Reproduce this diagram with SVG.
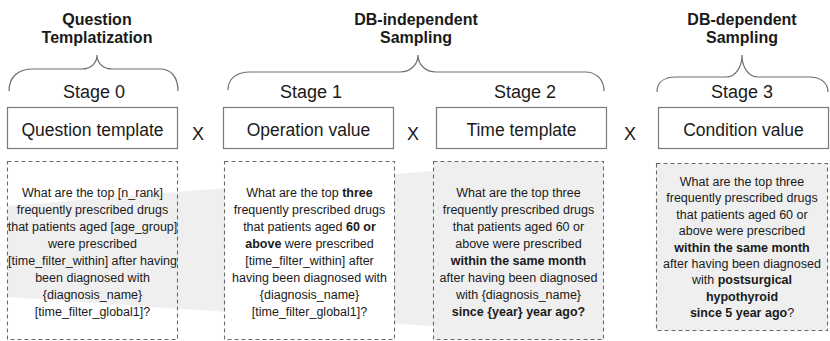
<svg xmlns="http://www.w3.org/2000/svg" width="830" height="341" viewBox="0 0 830 341">
<style>
text{font-family:"Liberation Sans",Arial,sans-serif;fill:#1a1a1a;text-anchor:middle}
.title{font-size:16px;font-weight:bold}
.stage{font-size:18px}
.lbl{font-size:17.5px}
.x{font-size:18px}
.q{font-size:12.5px}
.b{font-weight:bold}
.brace{fill:none;stroke:#6e6e6e;stroke-width:1.2}
.box{fill:#ffffff;stroke:#7a7a7a;stroke-width:1.2}
.dash{stroke:#6a6a6a;stroke-width:1.1;stroke-dasharray:4 3}
</style>
<polygon points="8,206 433,171 433,326 8,297" fill="#efefef"/>
<g id="titles">
<text class="title" x="97" y="25">Question</text>
<text class="title" x="97" y="43">Templatization</text>
<text class="title" x="416" y="25">DB-independent</text>
<text class="title" x="416" y="43">Sampling</text>
<text class="title" x="742" y="25">DB-dependent</text>
<text class="title" x="742" y="43">Sampling</text>
</g>
<g id="connectors">
<path class="brace" d="M9,91 C9,77 18,69 33,69 L82,69 C91,69 97,63 97,55 C97,63 103,69 112,69 L160,69 C171,69 178,77 178,91"/>
<path class="brace" d="M228,90 C228,79 236,72 250,72 L400,72 C410,72 418,65 418,55 C418,65 426,72 436,72 L585,72 C597,72 604,80 604,91"/>
<path class="brace" d="M657,92 C657,83 663,77 676,77 L726,77 C735,77 742,68 742,55 C742,68 749,77 758,77 L809,77 C821,77 828,83 828,92"/>
<text class="x" x="198" y="140">X</text>
<text class="x" x="413" y="140">X</text>
<text class="x" x="630" y="140">X</text>
</g>
<g id="stage0">
<text class="stage" x="94" y="98">Stage 0</text>
<rect class="box" x="7.5" y="107.5" width="170" height="41"/>
<text class="lbl" x="92.5" y="136">Question template</text>
</g>
<g id="stage1">
<text class="stage" x="311" y="98">Stage 1</text>
<rect class="box" x="223.5" y="107.5" width="170" height="41"/>
<text class="lbl" x="308.5" y="136">Operation value</text>
</g>
<g id="stage2">
<text class="stage" x="525" y="98">Stage 2</text>
<rect class="box" x="436.5" y="107.5" width="170" height="41"/>
<text class="lbl" x="521.5" y="136">Time template</text>
</g>
<g id="stage3">
<text class="stage" x="742" y="98">Stage 3</text>
<rect class="box" x="658.5" y="107.5" width="170" height="41"/>
<text class="lbl" x="743.5" y="136">Condition value</text>
</g>
<g id="example0">
<rect class="dash" x="7.5" y="161.5" width="170" height="178" fill="none"/>
<text class="q" x="92.5" y="197">What are the top [n_rank]</text>
<text class="q" x="92.5" y="214">frequently prescribed drugs</text>
<text class="q" x="92.5" y="231">that patients aged [age_group]</text>
<text class="q" x="92.5" y="248">were prescribed</text>
<text class="q" x="92.5" y="265">[time_filter_within] after having</text>
<text class="q" x="92.5" y="282">been diagnosed with</text>
<text class="q" x="92.5" y="299">{diagnosis_name}</text>
<text class="q" x="92.5" y="316">[time_filter_global1]?</text>
</g>
<g id="example1">
<rect class="dash" x="224.5" y="161.5" width="170" height="178" fill="#ffffff"/>
<text class="q" x="309.5" y="197">What are the top <tspan class="b">three</tspan></text>
<text class="q" x="309.5" y="214">frequently prescribed drugs</text>
<text class="q" x="309.5" y="231">that patients aged <tspan class="b">60 or</tspan></text>
<text class="q" x="309.5" y="248"><tspan class="b">above</tspan> were prescribed</text>
<text class="q" x="309.5" y="265">[time_filter_within] after</text>
<text class="q" x="309.5" y="282">having been diagnosed with</text>
<text class="q" x="309.5" y="299">{diagnosis_name}</text>
<text class="q" x="309.5" y="316">[time_filter_global1]?</text>
</g>
<g id="example2">
<rect class="dash" x="433.5" y="161.5" width="170" height="178" fill="#efefef"/>
<text class="q" x="518.5" y="197">What are the top three</text>
<text class="q" x="518.5" y="214">frequently prescribed drugs</text>
<text class="q" x="518.5" y="231">that patients aged 60 or</text>
<text class="q" x="518.5" y="248">above were prescribed</text>
<text class="q b" x="518.5" y="265">within  the same month</text>
<text class="q" x="518.5" y="282">after having been diagnosed</text>
<text class="q" x="518.5" y="299">with {diagnosis_name}</text>
<text class="q b" x="518.5" y="316">since {year} year ago?</text>
</g>
<g id="example3">
<rect class="dash" x="656.5" y="163.5" width="171" height="167" fill="#efefef"/>
<text class="q" x="742" y="186">What are the top three</text>
<text class="q" x="742" y="202.4">frequently prescribed drugs</text>
<text class="q" x="742" y="218.8">that patients aged 60 or</text>
<text class="q" x="742" y="235.2">above were prescribed</text>
<text class="q b" x="742" y="251.6">within  the same month</text>
<text class="q" x="742" y="268">after having been diagnosed</text>
<text class="q" x="742" y="284.4">with <tspan class="b">postsurgical</tspan></text>
<text class="q b" x="742" y="300.8">hypothyroid</text>
<text class="q" x="742" y="317.2"><tspan class="b">since 5 year ago</tspan>?</text>
</g>
</svg>
